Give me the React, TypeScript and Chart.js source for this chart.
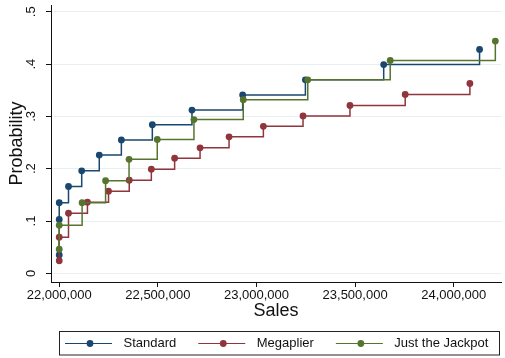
import React, { useEffect, useRef } from "react";
import { Chart, registerables } from "chart.js";

Chart.register(...registerables);

// Sales (x) and cumulative probability (y) for each ticket type
const standardSales = [22000000, 22000000, 22000000, 22047000, 22114000, 22203000, 22315000, 22472000, 22673000, 22930000, 23248000, 23645000, 24131000];
const standardProb = [0.035, 0.103, 0.135, 0.166, 0.196, 0.226, 0.255, 0.284, 0.312, 0.341, 0.37, 0.399, 0.428];

const megaplierSales = [22000000, 22000000, 22047000, 22143000, 22250000, 22355000, 22467000, 22585000, 22714000, 22861000, 23035000, 23236000, 23474000, 23754000, 24082000];
const megaplierProb = [0.024, 0.069, 0.115, 0.136, 0.157, 0.178, 0.199, 0.22, 0.24, 0.261, 0.281, 0.301, 0.321, 0.342, 0.363];

const jackpotSales = [22000000, 22000000, 22116000, 22235000, 22354000, 22497000, 22683000, 22933000, 23260000, 23678000, 24211000];
const jackpotProb = [0.046, 0.092, 0.135, 0.177, 0.218, 0.256, 0.294, 0.332, 0.37, 0.407, 0.444];

const seriesNames = ["Standard", "Megaplier", "Just the Jackpot"];
const seriesColors = ["#1a476f", "#90353b", "#55752f"];

const xTicks = [22000000, 22500000, 23000000, 23500000, 24000000];
const yTicks = [0, 0.1, 0.2, 0.3, 0.4, 0.5];
const yTickLabels = ["0", ".1", ".2", ".3", ".4", ".5"];

const xTitle = "Sales";
const yTitle = "Probability";

const FONT = "'Liberation Sans', Arial, sans-serif";
const TEXT = "#111";

const toPoints = (xs: number[], ys: number[]) => xs.map((x, i) => ({ x, y: ys[i] }));

const axisTextAndLegend = {
  id: "axisTextAndLegend",
  afterDraw(chart: any) {
    const ctx = chart.ctx as CanvasRenderingContext2D;
    const area = chart.chartArea;
    const yScale = chart.scales.y;
    ctx.save();
    ctx.fillStyle = TEXT;
    ctx.textAlign = "center";
    ctx.textBaseline = "middle";

    // rotated y tick labels
    ctx.font = `13px ${FONT}`;
    yTicks.forEach((v, i) => {
      const py = yScale.getPixelForValue(v);
      ctx.save();
      ctx.translate(31, py);
      ctx.rotate(-Math.PI / 2);
      ctx.fillText(yTickLabels[i], 0, 0);
      ctx.restore();
    });

    // axis titles
    ctx.font = `18px ${FONT}`;
    ctx.save();
    ctx.translate(17, (area.top + area.bottom) / 2);
    ctx.rotate(-Math.PI / 2);
    ctx.fillText(yTitle, 0, 0);
    ctx.restore();
    ctx.fillText(xTitle, (area.left + area.right) / 2, 311);

    // legend box
    ctx.strokeStyle = "#222";
    ctx.lineWidth = 1;
    ctx.strokeRect(59.5, 331.5, 440, 23.5);

    ctx.font = `13px ${FONT}`;
    ctx.textAlign = "left";
    let x = 65;
    const ly = 343.5;
    seriesNames.forEach((name, i) => {
      ctx.strokeStyle = seriesColors[i];
      ctx.lineWidth = 1;
      ctx.beginPath();
      ctx.moveTo(x, ly);
      ctx.lineTo(x + 47, ly);
      ctx.stroke();
      ctx.fillStyle = seriesColors[i];
      ctx.beginPath();
      ctx.arc(x + 25, ly, 3.4, 0, Math.PI * 2);
      ctx.fill();
      ctx.fillStyle = TEXT;
      ctx.fillText(name, x + 58.5, ly);
      x += 58.5 + ctx.measureText(name).width + 22;
    });
    ctx.restore();
  },
};

export default function App() {
  const canvasRef = useRef<HTMLCanvasElement | null>(null);

  useEffect(() => {
    document.body.style.margin = "0";
    const canvas = canvasRef.current;
    if (!canvas) return;

    const series = [
      toPoints(standardSales, standardProb),
      toPoints(megaplierSales, megaplierProb),
      toPoints(jackpotSales, jackpotProb),
    ];

    const chart = new Chart(canvas, {
      type: "line",
      data: {
        datasets: series.map((data, i) => ({
          label: seriesNames[i],
          data,
          // horizontal run at the previous level, then the rise at the new x
          stepped: "before" as const,
          borderColor: seriesColors[i],
          backgroundColor: seriesColors[i],
          borderWidth: 1.5,
          pointRadius: 3.4,
          pointBorderWidth: 0,
          pointBackgroundColor: seriesColors[i],
          fill: false,
          order: 2 - i,
        })),
      },
      options: {
        responsive: false,
        animation: false,
        layout: { padding: { top: 5, bottom: 36, left: 0, right: 0 } },
        plugins: {
          legend: { display: false },
          tooltip: { enabled: false },
        },
        scales: {
          x: {
            type: "linear",
            min: 21958291,
            max: 24239698,
            afterBuildTicks: (scale: any) => {
              scale.ticks = xTicks.map((value) => ({ value }));
            },
            afterFit: (scale: any) => {
              scale.height = 40;
            },
            border: { display: true, color: "#111", width: 1 },
            grid: {
              drawOnChartArea: false,
              drawTicks: true,
              tickLength: 5,
              tickColor: "#111",
            },
            ticks: {
              padding: 1,
              maxRotation: 0,
              minRotation: 0,
              color: TEXT,
              font: { family: FONT, size: 13 },
              callback: (v: any) => Number(v).toLocaleString("en-US"),
            },
          },
          y: {
            type: "linear",
            min: -0.01663,
            max: 0.513,
            afterBuildTicks: (scale: any) => {
              scale.ticks = yTicks.map((value) => ({ value }));
            },
            afterFit: (scale: any) => {
              scale.width = 51;
            },
            border: { display: true, color: "#111", width: 1 },
            grid: {
              drawOnChartArea: true,
              color: "#e8eff1",
              lineWidth: 1,
              drawTicks: true,
              tickLength: 5,
              tickColor: "#111",
            },
            ticks: { display: false },
          },
        },
      },
      plugins: [axisTextAndLegend],
    });

    return () => chart.destroy();
  }, []);

  return (
    <div style={{ width: 505, height: 358, background: "#fff" }}>
      <canvas ref={canvasRef} width={505} height={358} style={{ display: "block" }} />
    </div>
  );
}
